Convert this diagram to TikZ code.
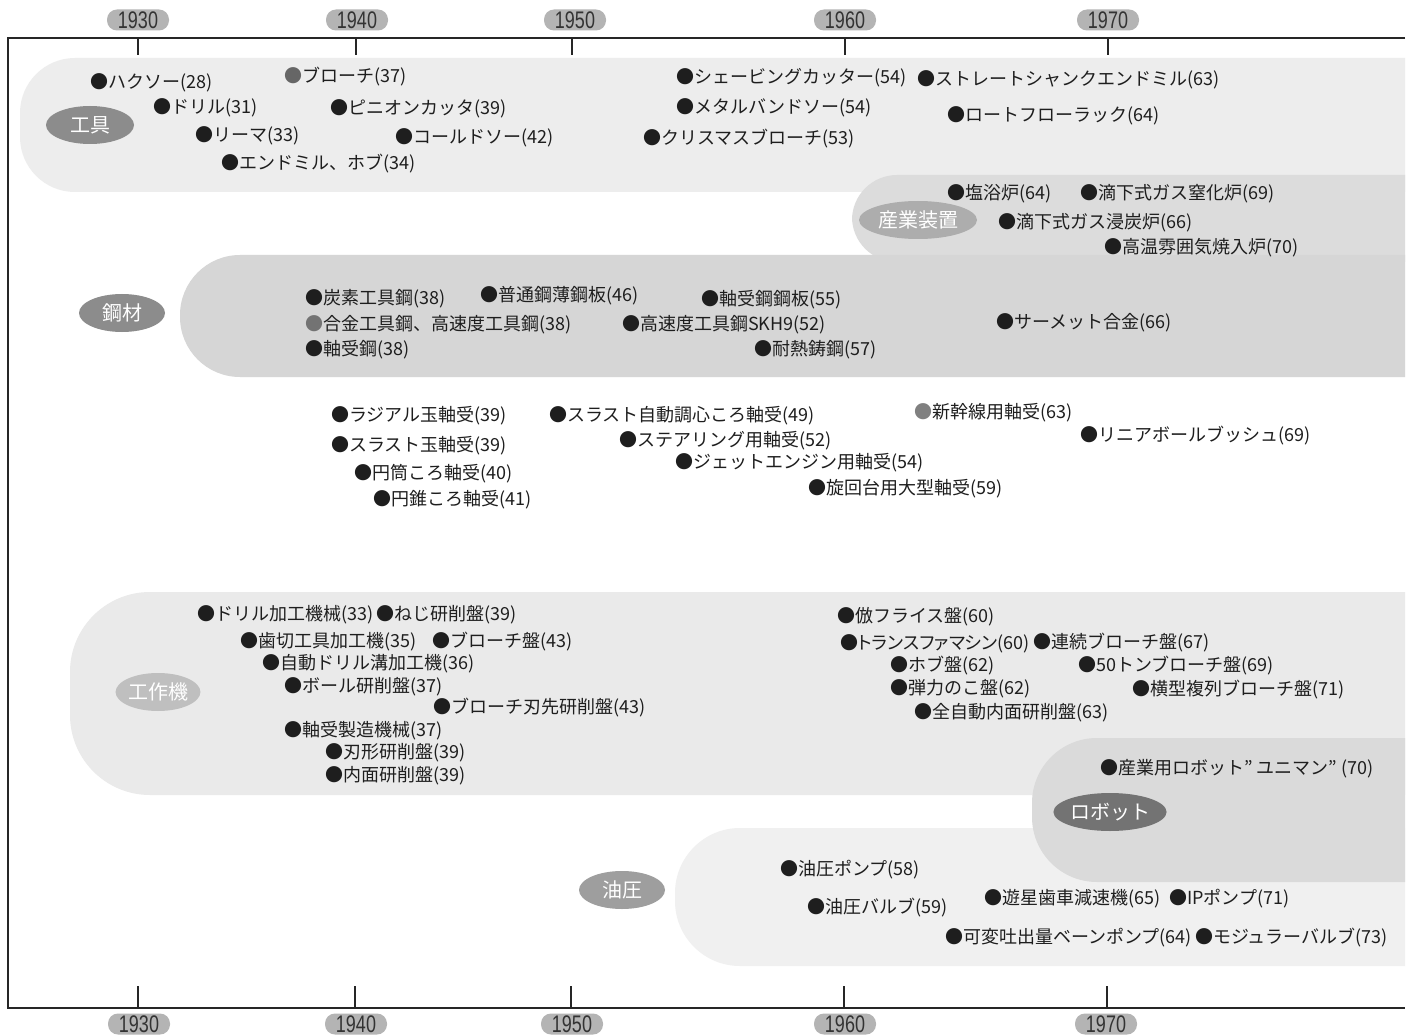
\documentclass[tikz,border=0pt]{standalone}
\usepackage{fontspec}
\setmainfont{Liberation Sans}
\newfontfamily\jp{Noto Sans CJK JP}
\newfontfamily\jpp[RawFeature=+palt]{Noto Sans CJK JP}
\newfontfamily\yearfont[FakeStretch=0.75]{Liberation Sans}
\usetikzlibrary{shapes.geometric}
\definecolor{bandA}{HTML}{EDEDED}
\definecolor{bandB}{HTML}{DCDCDC}
\definecolor{bandC}{HTML}{D6D6D6}
\definecolor{bandD}{HTML}{EAEAEA}
\definecolor{bandE}{HTML}{DADADA}
\definecolor{bandF}{HTML}{F0F0F0}
\definecolor{txt}{HTML}{1E1E1E}
\definecolor{pillc}{HTML}{B4B4B4}
\begin{document}
\begin{tikzpicture}[x=1pt,y=-1pt,
  item/.style={anchor=west,inner sep=0pt,font=\jp\fontsize{18}{20}\selectfont,text=txt},
  pill/.style={rounded corners=10pt,minimum width=62pt,minimum height=21pt,inner sep=0pt,fill=pillc,font=\yearfont\fontsize{24}{24}\selectfont,text=black!80},
  cat/.style={ellipse,inner sep=0pt,minimum height=38pt,font=\jp\fontsize{20}{22}\selectfont,text=white},
  frame/.style={line width=1.4pt,draw=black!85},
  tick/.style={line width=1.1pt,draw=black!85}]
\useasboundingbox (0,0) rectangle (1409,1035);
\fill[white] (0,0) rectangle (1409,1035);

% bands
\begin{scope}
\clip (0,0) rectangle (1405,1035);
\fill[bandA,rounded corners=55pt] (20,58) rectangle (1480,192);
\fill[bandB,rounded corners=45pt] (852,175) rectangle (1480,262);
\fill[bandC,rounded corners=60pt] (180,255) rectangle (1480,377);
\fill[bandD,rounded corners=80pt] (70,592) rectangle (1480,795);
\fill[bandF,rounded corners=65pt] (675,828) rectangle (1480,966);
\fill[bandE,rounded corners=65pt] (1032,738) rectangle (1480,882);
\end{scope}

% frame
\coordinate (ftr) at (1405,38);
\coordinate (ftl) at (8,38);
\coordinate (fbl) at (8,1008);
\coordinate (fbr) at (1405,1008);
\draw[frame] (ftr) -- (ftl) -- (fbl) -- (fbr);

% year pills and ticks
\foreach \n/\x/\xb in {1930/138/139,1940/357/356,1950/575/572,1960/845/845,1970/1108/1106}{
  \node[pill] (yt\n) at (\x,20) {\n};
  \node[pill] (yb\n) at (\xb,1024) {\n};
}
\foreach \x in {138,356,572,845,1108}{
  \draw[tick] (\x,38) -- (\x,55);
}
\foreach \x in {138,355,571,844,1107}{
  \draw[tick] (\x,1008) -- (\x,986);
}

% category labels
\node[cat,fill=black!45,minimum width=88pt] (cKougu) at (90,125) {工具};
\node[cat,fill=black!32,minimum width=118pt] (cSangyo) at (918,220) {産業装置};
\node[cat,fill=black!45,minimum width=86pt] (cKozai) at (122,313) {鋼材};
\node[cat,fill=black!25,minimum width=80pt] (cKosaku) at (158,692) {工作機};
\node[cat,fill=black!55,minimum width=106pt] (cRobot) at (1110,812) {ロボット};
\node[cat,fill=black!38,minimum width=86pt] (cYuatsu) at (622,890) {油圧};

% 工具
\node[item] (k1) at (90,83) {●ハクソー(28)};
\node[item] (k2) at (153,108) {●ドリル(31)};
\node[item] (k3) at (195,136) {●リーマ(33)};
\node[item] (k4) at (221,164) {●エンドミル、ホブ(34)};
\node[item] (k5) at (284,77) {{\color{black!60}●}ブローチ(37)};
\node[item] (k6) at (330,109) {●ピニオンカッタ(39)};
\node[item] (k7) at (395,138) {●コールドソー(42)};
\node[item] (k8) at (676,78) {●シェービングカッター(54)};
\node[item] (k9) at (917,80) {●ストレートシャンクエンドミル(63)};
\node[item] (k10) at (676,108) {●メタルバンドソー(54)};
\node[item] (k11) at (947,116) {●ロートフローラック(64)};
\node[item] (k12) at (643,139) {●クリスマスブローチ(53)};

% 産業装置
\node[item] (s1) at (947,194) {●塩浴炉(64)};
\node[item] (s2) at (1080,194) {●滴下式ガス窒化炉(69)};
\node[item] (s3) at (998,223) {●滴下式ガス浸炭炉(66)};
\node[item] (s4) at (1104,248) {●高温雰囲気焼入炉(70)};

% 鋼材
\node[item] (m1) at (305,299) {●炭素工具鋼(38)};
\node[item] (m2) at (480,296) {●普通鋼薄鋼板(46)};
\node[item] (m3) at (701,300) {●軸受鋼鋼板(55)};
\node[item] (m4) at (305,325) {{\color{black!55}●}合金工具鋼、高速度工具鋼(38)};
\node[item] (m5) at (622,325) {●高速度工具鋼SKH9(52)};
\node[item] (m6) at (996,323) {●サーメット合金(66)};
\node[item] (m7) at (305,350) {●軸受鋼(38)};
\node[item] (m8) at (754,350) {●耐熱鋳鋼(57)};

% 軸受
\node[item] (b1) at (331,416) {●ラジアル玉軸受(39)};
\node[item] (b2) at (549,416) {●スラスト自動調心ころ軸受(49)};
\node[item] (b3) at (914,413) {{\color{black!50}●}新幹線用軸受(63)};
\node[item] (b4) at (331,446) {●スラスト玉軸受(39)};
\node[item] (b5) at (619,441) {●ステアリング用軸受(52)};
\node[item] (b6) at (1080,436) {●リニアボールブッシュ(69)};
\node[item] (b7) at (354,474) {●円筒ころ軸受(40)};
\node[item] (b8) at (675,463) {●ジェットエンジン用軸受(54)};
\node[item] (b9) at (373,500) {●円錐ころ軸受(41)};
\node[item] (b10) at (808,489) {●旋回台用大型軸受(59)};

% 工作機
\node[item] (w1) at (197,615) {●ドリル加工機械(33)};
\node[item] (w2) at (376,615) {●ねじ研削盤(39)};
\node[item] (w3) at (240,642) {●歯切工具加工機(35)};
\node[item] (w4) at (432,642) {●ブローチ盤(43)};
\node[item] (w5) at (262,664) {●自動ドリル溝加工機(36)};
\node[item] (w6) at (284,687) {●ボール研削盤(37)};
\node[item] (w7) at (433,708) {●ブローチ刃先研削盤(43)};
\node[item] (w8) at (284,731) {●軸受製造機械(37)};
\node[item] (w9) at (325,753) {●刃形研削盤(39)};
\node[item] (w10) at (325,776) {●内面研削盤(39)};
\node[item] (w11) at (837,617) {●倣フライス盤(60)};
\node[item,font=\jpp\fontsize{18}{20}\selectfont] (w12) at (840,644) {●トランスファマシン(60)};
\node[item] (w13) at (1033,643) {●連続ブローチ盤(67)};
\node[item] (w14) at (890,666) {●ホブ盤(62)};
\node[item] (w15) at (1078,666) {●50トンブローチ盤(69)};
\node[item] (w16) at (890,689) {●弾力のこ盤(62)};
\node[item] (w17) at (1132,690) {●横型複列ブローチ盤(71)};
\node[item] (w18) at (914,713) {●全自動内面研削盤(63)};

% ロボット
\node[item] (r1) at (1100,769) {●産業用ロボット” ユニマン” (70)};

% 油圧
\node[item] (h1) at (780,870) {●油圧ポンプ(58)};
\node[item] (h2) at (807,908) {●油圧バルブ(59)};
\node[item] (h3) at (984,899) {●遊星歯車減速機(65)};
\node[item] (h4) at (1169,899) {●IPポンプ(71)};
\node[item] (h5) at (945,938) {●可変吐出量ベーンポンプ(64)};
\node[item] (h6) at (1195,938) {●モジュラーバルブ(73)};
\end{tikzpicture}
\end{document}
